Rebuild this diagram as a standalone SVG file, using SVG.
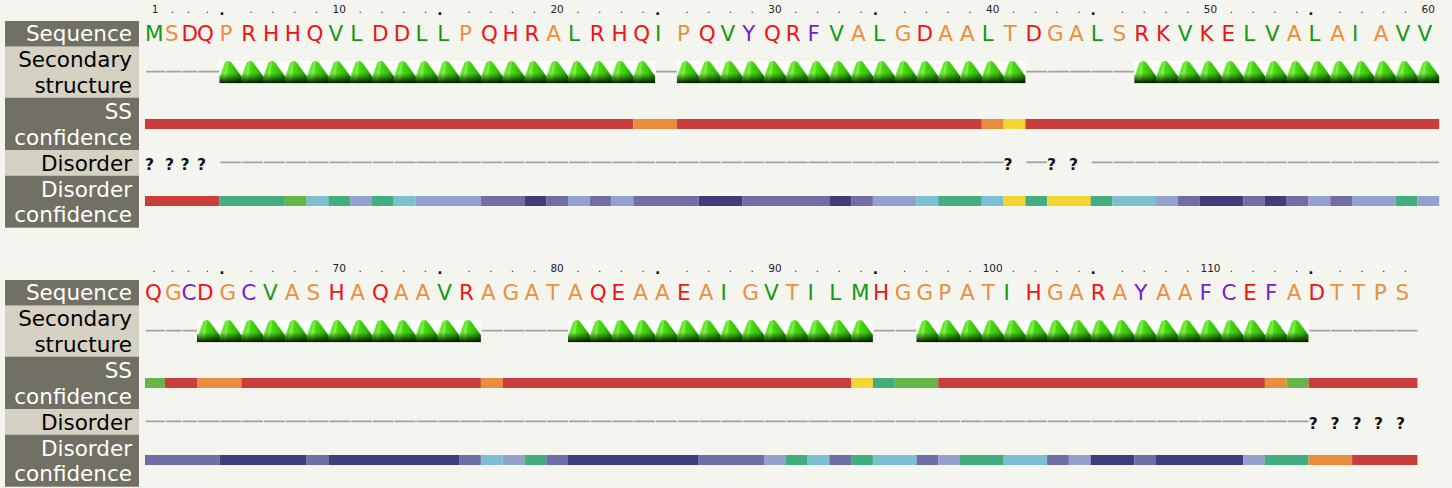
<svg xmlns="http://www.w3.org/2000/svg" width="1452" height="488" viewBox="0 0 1452 488">
<style>
.dk{fill:#727064}
.lt{fill:#d5d2c3}
.lab{font-family:"DejaVu Sans",sans-serif;font-size:21.5px;text-anchor:end}
.lw{fill:#ffffff}
.lb{fill:#000000}
.seq{font-family:"DejaVu Sans",sans-serif;font-size:21.5px}
.g{fill:#129a12}
.o{fill:#e8913f}
.r{fill:#f21414}
.p{fill:#7222d2}
.rul{font-family:"DejaVu Sans",sans-serif;font-size:10.5px;fill:#222222;text-anchor:middle}
.d{font-family:"DejaVu Sans",sans-serif;font-size:10.5px;fill:#333333;text-anchor:middle}
.big{font-family:"DejaVu Sans",sans-serif;font-size:14px;font-weight:bold;fill:#111111;text-anchor:middle}
.q{font-family:"DejaVu Sans",sans-serif;font-size:15.5px;font-weight:bold;fill:#111111;text-anchor:middle}
.coil{stroke:#a2a2a2;stroke-width:1.8;fill:none}
.dc{stroke-dasharray:20.78 1}
.cR{fill:#cb3d3a}.cO{fill:#e78d3d}.cY{fill:#f2d633}.cG{fill:#65b548}.cT{fill:#43ad82}
.cC{fill:#7bc0d1}.cP{fill:#92a2cc}.cM{fill:#6f6ea6}.cN{fill:#3e3d7e}
</style>
<defs>
<linearGradient id="hg" x1="0" y1="0" x2="1" y2="0">
<stop offset="0" stop-color="#78ee42"/>
<stop offset="0.35" stop-color="#4fe014"/>
<stop offset="0.7" stop-color="#38c20c"/>
<stop offset="1" stop-color="#1f8a04"/>
</linearGradient>
<linearGradient id="hs" x1="0" y1="0" x2="0" y2="1">
<stop offset="0" stop-color="#002000" stop-opacity="0"/>
<stop offset="0.55" stop-color="#002000" stop-opacity="0"/>
<stop offset="1" stop-color="#000800" stop-opacity="0.95"/>
</linearGradient>
<pattern id="helix" patternUnits="userSpaceOnUse" x="219.5" y="61" width="21.78" height="259">
<rect width="21.78" height="22.3" fill="#ffffff"/>
<path d="M0,22.3 L0,16 L5.5,1.5 Q7,0 9,0 Q11,0 12,1.5 L21.78,15 L21.78,22.3 Z" fill="url(#hg)"/>
<path d="M3,22.3 L7,1 L9,0.6 L6.8,22.3 Z" fill="#9af56a" opacity="0.6"/>
<path d="M0,22.3 L0,16 L5.5,1.5 Q7,0 9,0 Q11,0 12,1.5 L21.78,15 L21.78,22.3 Z" fill="url(#hs)"/>
</pattern>
</defs>
<rect width="1452" height="488" fill="#f5f5ef"/>

<g id="labels-1">
<rect class="dk" x="5" y="21" width="134" height="25.7"/>
<rect class="lt" x="5" y="46.7" width="134" height="51"/>
<rect class="dk" x="5" y="97.7" width="134" height="52.3"/>
<rect class="lt" x="5" y="150" width="134" height="25.7"/>
<rect class="dk" x="5" y="175.7" width="134" height="52"/>
<text class="lab lw" x="132" y="41">Sequence</text>
<text class="lab lb" x="132" y="66.5">Secondary</text>
<text class="lab lb" x="132" y="92.5">structure</text>
<text class="lab lw" x="132" y="119">SS</text>
<text class="lab lw" x="132" y="145">confidence</text>
<text class="lab lb" x="132" y="170.5">Disorder</text>
<text class="lab lw" x="132" y="197">Disorder</text>
<text class="lab lw" x="132" y="221.5">confidence</text>
</g>

<g id="labels-2" transform="translate(0,259)">
<rect class="dk" x="5" y="21" width="134" height="25.7"/>
<rect class="lt" x="5" y="46.7" width="134" height="51"/>
<rect class="dk" x="5" y="97.7" width="134" height="52.3"/>
<rect class="lt" x="5" y="150" width="134" height="25.7"/>
<rect class="dk" x="5" y="175.7" width="134" height="52"/>
<text class="lab lw" x="132" y="41">Sequence</text>
<text class="lab lb" x="132" y="66.5">Secondary</text>
<text class="lab lb" x="132" y="92.5">structure</text>
<text class="lab lw" x="132" y="119">SS</text>
<text class="lab lw" x="132" y="145">confidence</text>
<text class="lab lb" x="132" y="170.5">Disorder</text>
<text class="lab lw" x="132" y="197">Disorder</text>
<text class="lab lw" x="132" y="221.5">confidence</text>
</g>

<g id="ruler-1">
<text class="rul" x="155" y="13.4">1</text>
<text class="rul" x="339.3" y="13.4">10</text>
<text class="rul" x="557.1" y="13.4">20</text>
<text class="rul" x="774.9" y="13.4">30</text>
<text class="rul" x="992.7" y="13.4">40</text>
<text class="rul" x="1210.5" y="13.4">50</text>
<text class="rul" x="1428.3" y="13.4">60</text>
<text class="d" x="172.3" y="13.4">.</text><text class="d" x="188.3" y="13.4">.</text><text class="d" x="207.3" y="13.4">.</text>
<text class="d" x="251.2" y="13.4">.</text><text class="d" x="273.0" y="13.4">.</text><text class="d" x="294.7" y="13.4">.</text><text class="d" x="316.5" y="13.4">.</text>
<text class="d" x="360.1" y="13.4">.</text><text class="d" x="381.9" y="13.4">.</text><text class="d" x="403.6" y="13.4">.</text><text class="d" x="425.4" y="13.4">.</text>
<text class="d" x="469.0" y="13.4">.</text><text class="d" x="490.8" y="13.4">.</text><text class="d" x="512.5" y="13.4">.</text><text class="d" x="534.3" y="13.4">.</text>
<text class="d" x="577.9" y="13.4">.</text><text class="d" x="599.7" y="13.4">.</text><text class="d" x="621.4" y="13.4">.</text><text class="d" x="643.2" y="13.4">.</text>
<text class="d" x="686.8" y="13.4">.</text><text class="d" x="708.6" y="13.4">.</text><text class="d" x="730.3" y="13.4">.</text><text class="d" x="752.1" y="13.4">.</text>
<text class="d" x="795.7" y="13.4">.</text><text class="d" x="817.5" y="13.4">.</text><text class="d" x="839.2" y="13.4">.</text><text class="d" x="861.0" y="13.4">.</text>
<text class="d" x="904.6" y="13.4">.</text><text class="d" x="926.4" y="13.4">.</text><text class="d" x="948.1" y="13.4">.</text><text class="d" x="969.9" y="13.4">.</text>
<text class="d" x="1013.5" y="13.4">.</text><text class="d" x="1035.3" y="13.4">.</text><text class="d" x="1057.0" y="13.4">.</text><text class="d" x="1078.8" y="13.4">.</text>
<text class="d" x="1122.4" y="13.4">.</text><text class="d" x="1144.2" y="13.4">.</text><text class="d" x="1165.9" y="13.4">.</text><text class="d" x="1187.7" y="13.4">.</text>
<text class="d" x="1231.3" y="13.4">.</text><text class="d" x="1253.1" y="13.4">.</text><text class="d" x="1274.8" y="13.4">.</text><text class="d" x="1296.6" y="13.4">.</text>
<text class="d" x="1340.2" y="13.4">.</text><text class="d" x="1362.0" y="13.4">.</text><text class="d" x="1383.7" y="13.4">.</text><text class="d" x="1405.5" y="13.4">.</text>
<text class="big" x="222.0" y="15.3">.</text><text class="big" x="439.8" y="15.3">.</text><text class="big" x="657.6" y="15.3">.</text>
<text class="big" x="875.4" y="15.3">.</text><text class="big" x="1093.2" y="15.3">.</text><text class="big" x="1311.0" y="15.3">.</text>
</g>

<g id="ruler-2">
<text class="rul" x="339.3" y="272.4">70</text>
<text class="rul" x="557.1" y="272.4">80</text>
<text class="rul" x="774.9" y="272.4">90</text>
<text class="rul" x="992.7" y="272.4">100</text>
<text class="rul" x="1210.5" y="272.4">110</text>
<text class="d" x="154" y="272.4">.</text>
<text class="d" x="172.3" y="272.4">.</text><text class="d" x="188.3" y="272.4">.</text><text class="d" x="207.3" y="272.4">.</text>
<text class="d" x="251.2" y="272.4">.</text><text class="d" x="273.0" y="272.4">.</text><text class="d" x="294.7" y="272.4">.</text><text class="d" x="316.5" y="272.4">.</text>
<text class="d" x="360.1" y="272.4">.</text><text class="d" x="381.9" y="272.4">.</text><text class="d" x="403.6" y="272.4">.</text><text class="d" x="425.4" y="272.4">.</text>
<text class="d" x="469.0" y="272.4">.</text><text class="d" x="490.8" y="272.4">.</text><text class="d" x="512.5" y="272.4">.</text><text class="d" x="534.3" y="272.4">.</text>
<text class="d" x="577.9" y="272.4">.</text><text class="d" x="599.7" y="272.4">.</text><text class="d" x="621.4" y="272.4">.</text><text class="d" x="643.2" y="272.4">.</text>
<text class="d" x="686.8" y="272.4">.</text><text class="d" x="708.6" y="272.4">.</text><text class="d" x="730.3" y="272.4">.</text><text class="d" x="752.1" y="272.4">.</text>
<text class="d" x="795.7" y="272.4">.</text><text class="d" x="817.5" y="272.4">.</text><text class="d" x="839.2" y="272.4">.</text><text class="d" x="861.0" y="272.4">.</text>
<text class="d" x="904.6" y="272.4">.</text><text class="d" x="926.4" y="272.4">.</text><text class="d" x="948.1" y="272.4">.</text><text class="d" x="969.9" y="272.4">.</text>
<text class="d" x="1013.5" y="272.4">.</text><text class="d" x="1035.3" y="272.4">.</text><text class="d" x="1057.0" y="272.4">.</text><text class="d" x="1078.8" y="272.4">.</text>
<text class="d" x="1122.4" y="272.4">.</text><text class="d" x="1144.2" y="272.4">.</text><text class="d" x="1165.9" y="272.4">.</text><text class="d" x="1187.7" y="272.4">.</text>
<text class="d" x="1231.3" y="272.4">.</text><text class="d" x="1253.1" y="272.4">.</text><text class="d" x="1274.8" y="272.4">.</text><text class="d" x="1296.6" y="272.4">.</text>
<text class="d" x="1340.2" y="272.4">.</text><text class="d" x="1362.0" y="272.4">.</text><text class="d" x="1383.7" y="272.4">.</text><text class="d" x="1405.5" y="272.4">.</text>
<text class="big" x="222.0" y="274.3">.</text><text class="big" x="439.8" y="274.3">.</text><text class="big" x="657.6" y="274.3">.</text>
<text class="big" x="875.4" y="274.3">.</text><text class="big" x="1093.2" y="274.3">.</text><text class="big" x="1311.0" y="274.3">.</text>
</g>

<g id="sequence-1">
<text class="seq" y="41"><tspan class="g" x="145">M</tspan><tspan class="o" x="165">S</tspan><tspan class="r" x="181.5">D</tspan><tspan class="r" x="197">Q</tspan><tspan class="o" x="219.5">P</tspan><tspan class="r" x="241.3">R</tspan><tspan class="r" x="263.1">H</tspan><tspan class="r" x="284.8">H</tspan><tspan class="r" x="306.6">Q</tspan><tspan class="g" x="328.4">V</tspan><tspan class="g" x="350.2">L</tspan><tspan class="r" x="372.0">D</tspan><tspan class="r" x="393.7">D</tspan><tspan class="g" x="415.5">L</tspan><tspan class="g" x="437.3">L</tspan><tspan class="o" x="459.1">P</tspan><tspan class="r" x="480.9">Q</tspan><tspan class="r" x="502.6">H</tspan><tspan class="r" x="524.4">R</tspan><tspan class="o" x="546.2">A</tspan><tspan class="g" x="568.0">L</tspan><tspan class="r" x="589.8">R</tspan><tspan class="r" x="611.5">H</tspan><tspan class="r" x="633.3">Q</tspan><tspan class="g" x="655.1">I</tspan><tspan class="o" x="676.9">P</tspan><tspan class="r" x="698.7">Q</tspan><tspan class="g" x="720.4">V</tspan><tspan class="p" x="742.2">Y</tspan><tspan class="r" x="764.0">Q</tspan><tspan class="r" x="785.8">R</tspan><tspan class="p" x="807.6">F</tspan><tspan class="g" x="829.3">V</tspan><tspan class="o" x="851.1">A</tspan><tspan class="g" x="872.9">L</tspan><tspan class="o" x="894.7">G</tspan><tspan class="r" x="916.5">D</tspan><tspan class="o" x="938.2">A</tspan><tspan class="o" x="960.0">A</tspan><tspan class="g" x="981.8">L</tspan><tspan class="o" x="1003.6">T</tspan><tspan class="r" x="1025.4">D</tspan><tspan class="o" x="1047.1">G</tspan><tspan class="o" x="1068.9">A</tspan><tspan class="g" x="1090.7">L</tspan><tspan class="o" x="1112.5">S</tspan><tspan class="r" x="1134.3">R</tspan><tspan class="r" x="1156.0">K</tspan><tspan class="g" x="1177.8">V</tspan><tspan class="r" x="1199.6">K</tspan><tspan class="r" x="1221.4">E</tspan><tspan class="g" x="1243.2">L</tspan><tspan class="g" x="1264.9">V</tspan><tspan class="o" x="1286.7">A</tspan><tspan class="g" x="1308.5">L</tspan><tspan class="o" x="1330.3">A</tspan><tspan class="g" x="1352.1">I</tspan><tspan class="o" x="1373.8">A</tspan><tspan class="g" x="1395.6">V</tspan><tspan class="g" x="1417.4">V</tspan></text>
</g>

<g id="sequence-2">
<text class="seq" y="300"><tspan class="r" x="145">Q</tspan><tspan class="o" x="165">G</tspan><tspan class="p" x="181.5">C</tspan><tspan class="r" x="197">D</tspan><tspan class="o" x="219.5">G</tspan><tspan class="p" x="241.3">C</tspan><tspan class="g" x="263.1">V</tspan><tspan class="o" x="284.8">A</tspan><tspan class="o" x="306.6">S</tspan><tspan class="r" x="328.4">H</tspan><tspan class="o" x="350.2">A</tspan><tspan class="r" x="372.0">Q</tspan><tspan class="o" x="393.7">A</tspan><tspan class="o" x="415.5">A</tspan><tspan class="g" x="437.3">V</tspan><tspan class="r" x="459.1">R</tspan><tspan class="o" x="480.9">A</tspan><tspan class="o" x="502.6">G</tspan><tspan class="o" x="524.4">A</tspan><tspan class="o" x="546.2">T</tspan><tspan class="o" x="568.0">A</tspan><tspan class="r" x="589.8">Q</tspan><tspan class="r" x="611.5">E</tspan><tspan class="o" x="633.3">A</tspan><tspan class="o" x="655.1">A</tspan><tspan class="r" x="676.9">E</tspan><tspan class="o" x="698.7">A</tspan><tspan class="g" x="720.4">I</tspan><tspan class="o" x="742.2">G</tspan><tspan class="g" x="764.0">V</tspan><tspan class="o" x="785.8">T</tspan><tspan class="g" x="807.6">I</tspan><tspan class="g" x="829.3">L</tspan><tspan class="g" x="851.1">M</tspan><tspan class="r" x="872.9">H</tspan><tspan class="o" x="894.7">G</tspan><tspan class="o" x="916.5">G</tspan><tspan class="o" x="938.2">P</tspan><tspan class="o" x="960.0">A</tspan><tspan class="o" x="981.8">T</tspan><tspan class="g" x="1003.6">I</tspan><tspan class="r" x="1025.4">H</tspan><tspan class="o" x="1047.1">G</tspan><tspan class="o" x="1068.9">A</tspan><tspan class="r" x="1090.7">R</tspan><tspan class="o" x="1112.5">A</tspan><tspan class="p" x="1134.3">Y</tspan><tspan class="o" x="1156.0">A</tspan><tspan class="o" x="1177.8">A</tspan><tspan class="p" x="1199.6">F</tspan><tspan class="p" x="1221.4">C</tspan><tspan class="r" x="1243.2">E</tspan><tspan class="p" x="1264.9">F</tspan><tspan class="o" x="1286.7">A</tspan><tspan class="r" x="1308.5">D</tspan><tspan class="o" x="1330.3">T</tspan><tspan class="o" x="1352.1">T</tspan><tspan class="o" x="1373.8">P</tspan><tspan class="o" x="1395.6">S</tspan></text>
</g>

<g id="secondary-1">
<path class="coil" d="M146 71.7H165M166 71.7H181.5M182.5 71.7H197M198 71.7H219.5M656.1 71.7H676.9"/>
<line class="coil dc" x1="1026.4" y1="71.7" x2="1134.3" y2="71.7"/>
<rect x="219.5" y="61" width="435.6" height="22.3" fill="url(#helix)"/>
<rect x="676.9" y="61" width="348.5" height="22.3" fill="url(#helix)"/>
<rect x="1134.3" y="61" width="304.9" height="22.3" fill="url(#helix)"/>
</g>

<g id="secondary-2">
<path class="coil" d="M146 330.7H165M166 330.7H181.5M182.5 330.7H197"/>
<line class="coil dc" x1="481.9" y1="330.7" x2="568.0" y2="330.7"/>
<line class="coil dc" x1="873.9" y1="330.7" x2="916.5" y2="330.7"/>
<line class="coil dc" x1="1309.5" y1="330.7" x2="1417.4" y2="330.7"/>
<rect x="197" y="320" width="283.9" height="22.3" fill="url(#helix)"/>
<rect x="568.0" y="320" width="304.9" height="22.3" fill="url(#helix)"/>
<rect x="916.5" y="320" width="392.0" height="22.3" fill="url(#helix)"/>
</g>

<g id="ss-confidence-1">
<rect class="cR" x="145" y="119" width="488.3" height="10"/>
<rect class="cO" x="633.3" y="119" width="43.6" height="10"/>
<rect class="cR" x="676.9" y="119" width="304.9" height="10"/>
<rect class="cO" x="981.8" y="119" width="21.8" height="10"/>
<rect class="cY" x="1003.6" y="119" width="21.8" height="10"/>
<rect class="cR" x="1025.4" y="119" width="413.8" height="10"/>
</g>

<g id="ss-confidence-2">
<rect class="cG" x="145" y="378" width="20" height="10"/>
<rect class="cR" x="165" y="378" width="32" height="10"/>
<rect class="cO" x="197" y="378" width="44.3" height="10"/>
<rect class="cR" x="241.3" y="378" width="239.6" height="10"/>
<rect class="cO" x="480.9" y="378" width="21.7" height="10"/>
<rect class="cR" x="502.6" y="378" width="348.5" height="10"/>
<rect class="cY" x="851.1" y="378" width="21.8" height="10"/>
<rect class="cT" x="872.9" y="378" width="21.8" height="10"/>
<rect class="cG" x="894.7" y="378" width="43.5" height="10"/>
<rect class="cR" x="938.2" y="378" width="326.7" height="10"/>
<rect class="cO" x="1264.9" y="378" width="21.8" height="10"/>
<rect class="cG" x="1286.7" y="378" width="21.8" height="10"/>
<rect class="cR" x="1308.5" y="378" width="108.9" height="10"/>
</g>

<g id="disorder-1">
<text class="q" x="149.5" y="169.5">?</text>
<text class="q" x="169.5" y="169.5">?</text>
<text class="q" x="185" y="169.5">?</text>
<text class="q" x="201.5" y="169.5">?</text>
<text class="q" x="1008" y="169.5">?</text>
<text class="q" x="1051.6" y="169.5">?</text>
<text class="q" x="1073.4" y="169.5">?</text>
<line class="coil dc" x1="220.5" y1="162.3" x2="1003.6" y2="162.3"/>
<line class="coil" x1="1026.4" y1="162.3" x2="1047.1" y2="162.3"/>
<line class="coil dc" x1="1091.7" y1="162.3" x2="1439.2" y2="162.3"/>
</g>

<g id="disorder-2">
<path class="coil" d="M146 421.3H165M166 421.3H181.5M182.5 421.3H197M198 421.3H219.5"/>
<line class="coil dc" x1="220.5" y1="421.3" x2="1308.5" y2="421.3"/>
<text class="q" x="1313.3" y="428.5">?</text>
<text class="q" x="1335.1" y="428.5">?</text>
<text class="q" x="1356.9" y="428.5">?</text>
<text class="q" x="1378.6" y="428.5">?</text>
<text class="q" x="1400.4" y="428.5">?</text>
</g>

<g id="disorder-confidence-1">
<rect class="cR" x="145" y="196" width="74.5" height="10"/>
<rect class="cT" x="219.5" y="196" width="65.3" height="10"/>
<rect class="cG" x="284.8" y="196" width="21.8" height="10"/>
<rect class="cC" x="306.6" y="196" width="21.8" height="10"/>
<rect class="cT" x="328.4" y="196" width="21.8" height="10"/>
<rect class="cP" x="350.2" y="196" width="21.8" height="10"/>
<rect class="cT" x="372.0" y="196" width="21.7" height="10"/>
<rect class="cC" x="393.7" y="196" width="21.8" height="10"/>
<rect class="cP" x="415.5" y="196" width="65.4" height="10"/>
<rect class="cM" x="480.9" y="196" width="43.5" height="10"/>
<rect class="cN" x="524.4" y="196" width="21.8" height="10"/>
<rect class="cM" x="546.2" y="196" width="21.8" height="10"/>
<rect class="cP" x="568.0" y="196" width="21.8" height="10"/>
<rect class="cM" x="589.8" y="196" width="21.7" height="10"/>
<rect class="cP" x="611.5" y="196" width="21.8" height="10"/>
<rect class="cM" x="633.3" y="196" width="65.4" height="10"/>
<rect class="cN" x="698.7" y="196" width="43.5" height="10"/>
<rect class="cM" x="742.2" y="196" width="87.1" height="10"/>
<rect class="cN" x="829.3" y="196" width="21.8" height="10"/>
<rect class="cM" x="851.1" y="196" width="21.8" height="10"/>
<rect class="cP" x="872.9" y="196" width="43.6" height="10"/>
<rect class="cC" x="916.5" y="196" width="21.7" height="10"/>
<rect class="cT" x="938.2" y="196" width="43.6" height="10"/>
<rect class="cC" x="981.8" y="196" width="21.8" height="10"/>
<rect class="cY" x="1003.6" y="196" width="21.8" height="10"/>
<rect class="cT" x="1025.4" y="196" width="21.7" height="10"/>
<rect class="cY" x="1047.1" y="196" width="43.6" height="10"/>
<rect class="cT" x="1090.7" y="196" width="21.8" height="10"/>
<rect class="cC" x="1112.5" y="196" width="43.5" height="10"/>
<rect class="cP" x="1156.0" y="196" width="21.8" height="10"/>
<rect class="cM" x="1177.8" y="196" width="21.8" height="10"/>
<rect class="cN" x="1199.6" y="196" width="43.6" height="10"/>
<rect class="cM" x="1243.2" y="196" width="21.7" height="10"/>
<rect class="cN" x="1264.9" y="196" width="21.8" height="10"/>
<rect class="cM" x="1286.7" y="196" width="21.8" height="10"/>
<rect class="cP" x="1308.5" y="196" width="21.8" height="10"/>
<rect class="cM" x="1330.3" y="196" width="21.8" height="10"/>
<rect class="cP" x="1352.1" y="196" width="43.5" height="10"/>
<rect class="cT" x="1395.6" y="196" width="21.8" height="10"/>
<rect class="cP" x="1417.4" y="196" width="21.8" height="10"/>
</g>

<g id="disorder-confidence-2">
<rect class="cM" x="145" y="455" width="74.5" height="10"/>
<rect class="cN" x="219.5" y="455" width="87.1" height="10"/>
<rect class="cM" x="306.6" y="455" width="21.8" height="10"/>
<rect class="cN" x="328.4" y="455" width="130.7" height="10"/>
<rect class="cM" x="459.1" y="455" width="21.8" height="10"/>
<rect class="cC" x="480.9" y="455" width="21.7" height="10"/>
<rect class="cP" x="502.6" y="455" width="21.8" height="10"/>
<rect class="cT" x="524.4" y="455" width="21.8" height="10"/>
<rect class="cM" x="546.2" y="455" width="21.8" height="10"/>
<rect class="cN" x="568.0" y="455" width="130.7" height="10"/>
<rect class="cM" x="698.7" y="455" width="65.3" height="10"/>
<rect class="cP" x="764.0" y="455" width="21.8" height="10"/>
<rect class="cT" x="785.8" y="455" width="21.8" height="10"/>
<rect class="cC" x="807.6" y="455" width="21.7" height="10"/>
<rect class="cM" x="829.3" y="455" width="21.8" height="10"/>
<rect class="cT" x="851.1" y="455" width="21.8" height="10"/>
<rect class="cC" x="872.9" y="455" width="43.6" height="10"/>
<rect class="cM" x="916.5" y="455" width="21.7" height="10"/>
<rect class="cP" x="938.2" y="455" width="21.8" height="10"/>
<rect class="cT" x="960.0" y="455" width="43.6" height="10"/>
<rect class="cC" x="1003.6" y="455" width="43.5" height="10"/>
<rect class="cM" x="1047.1" y="455" width="21.8" height="10"/>
<rect class="cP" x="1068.9" y="455" width="21.8" height="10"/>
<rect class="cN" x="1090.7" y="455" width="43.6" height="10"/>
<rect class="cM" x="1134.3" y="455" width="21.7" height="10"/>
<rect class="cN" x="1156.0" y="455" width="87.2" height="10"/>
<rect class="cP" x="1243.2" y="455" width="21.7" height="10"/>
<rect class="cT" x="1264.9" y="455" width="43.6" height="10"/>
<rect class="cO" x="1308.5" y="455" width="43.6" height="10"/>
<rect class="cR" x="1352.1" y="455" width="65.3" height="10"/>
</g>
</svg>
